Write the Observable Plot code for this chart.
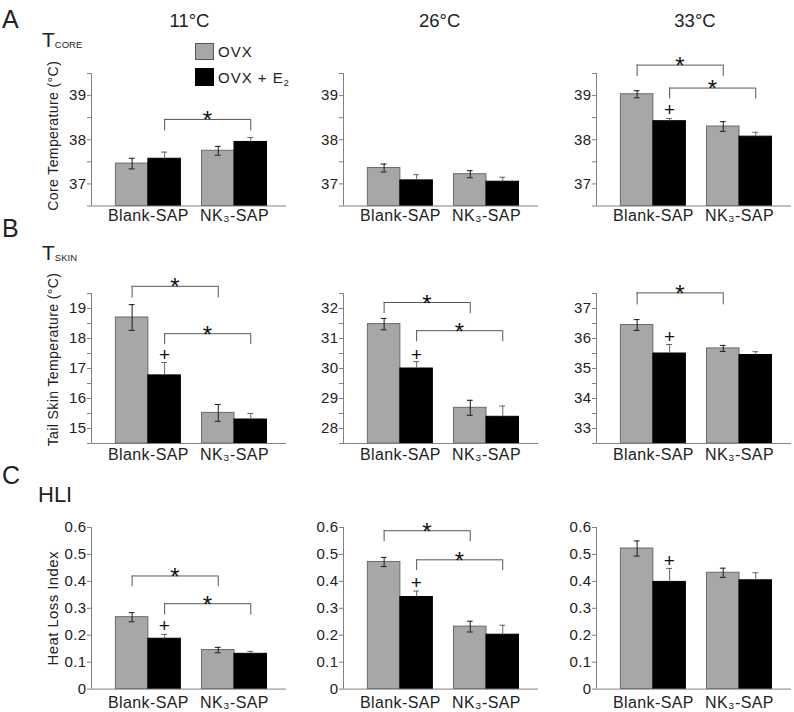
<!DOCTYPE html>
<html><head><meta charset="utf-8">
<script src="https://cdn.jsdelivr.net/npm/d3@7"></script>
<script src="https://cdn.jsdelivr.net/npm/@observablehq/plot@0.6"></script>
<style>
body{margin:0;background:#fff;}
#fig{position:relative;width:794px;height:712px;overflow:hidden;font-family:"Liberation Sans",Arial,Helvetica,sans-serif;color:#1a1a1a;background:#fff;}
.panel{position:absolute;}
.panel svg{overflow:visible;}
#overlay{position:absolute;left:0;top:0;}
</style></head><body><div id="fig"></div>
<script>
// ---------- data ----------
const temperatures = ["11°C", "26°C", "33°C"];
const groups = ["Blank-SAP", "NK₃-SAP"];
const treatments = ["OVX", "OVX + E₂"];
const panelLetters = ["A", "B", "C"];
const yTitles = ["Core Temperature (°C)", "Tail Skin Temperature (°C)", "Heat Loss Index"];

// order inside each list: Blank OVX, Blank OVX+E2, NK3 OVX, NK3 OVX+E2 ; one list per temperature
const coreMean = [[37.46, 37.57, 37.75, 37.95], [37.36, 37.08, 37.22, 37.05], [39.03, 38.42, 38.30, 38.07]];
const coreSem  = [[0.12, 0.15, 0.10, 0.10], [0.09, 0.13, 0.08, 0.10], [0.08, 0.06, 0.11, 0.10]];
const skinMean = [[18.70, 16.77, 15.52, 15.30], [31.48, 30.00, 28.69, 28.39], [36.45, 35.50, 35.67, 35.45]];
const skinSem  = [[0.43, 0.43, 0.28, 0.20], [0.19, 0.23, 0.25, 0.36], [0.18, 0.30, 0.10, 0.11]];
const hliMean  = [[0.267, 0.187, 0.145, 0.131], [0.472, 0.342, 0.232, 0.202], [0.522, 0.398, 0.432, 0.404]];
const hliSem   = [[0.017, 0.016, 0.010, 0.009], [0.017, 0.022, 0.020, 0.035], [0.028, 0.050, 0.017, 0.028]];

const coreDomain = [36.5, 39.5];
const skinDomains = [[14.5, 19.5], [27.5, 32.5], [32.5, 37.5]];
const hliDomain = [0, 0.6];
const coreTicks = [37, 38, 39];
const skinTicks = [[15, 16, 17, 18, 19], [28, 29, 30, 31, 32], [33, 34, 35, 36, 37]];
const hliTicks = [0, 0.1, 0.2, 0.3, 0.4, 0.5, 0.6];

// significance brackets (*): treatment index, bracket level, bracket end
const sigCore = [[{t: 1, y: 38.46, end: 38.2}], [], [{t: 0, y: 39.69, end: 39.43}, {t: 1, y: 39.17, end: 38.92}]];
const sigSkin = [[{t: 0, y: 19.74, end: 19.35}, {t: 1, y: 18.16, end: 17.8}],
                 [{t: 0, y: 32.2, end: 31.83}, {t: 1, y: 31.26, end: 30.89}],
                 [{t: 0, y: 37.52, end: 37.12}]];
const sigHli  = [[{t: 0, y: 0.42, end: 0.38}, {t: 1, y: 0.317, end: 0.275}],
                 [{t: 0, y: 0.588, end: 0.547}, {t: 1, y: 0.48, end: 0.44}], []];
// "+" marker heights above Blank-SAP OVX+E2 bar
const plusCore = [null, null, 38.67];
const plusSkin = [17.45, 30.45, 36.05];
const plusHli  = [0.234, 0.395, 0.477];

// ---------- layout ----------
const FONT = '"Liberation Sans", Arial, Helvetica, sans-serif';
const colAxisX = [91, 342.7, 596];
const rowTop = [72.5, 293.3, 526.7];
const rowH = [132.5, 150, 161.6];
const labelPad = [4, 5, 8];
const groupCenter = [1.75, 4.4]; // x domain [0,6] in bar widths
const ML = 60, MT = 50, MB = 30, MR = 4, FW = 195;
const GRAY = "#a7a7a7", GRAY_STROKE = "#6b6b6b", AXIS = "#808080", TEXT = "#222";

const fig = document.getElementById("fig");

// overlay for titles, letters, legend
const NS = "http://www.w3.org/2000/svg";
const ov = document.createElementNS(NS, "svg");
ov.setAttribute("id", "overlay"); ov.setAttribute("width", 794); ov.setAttribute("height", 712);
ov.style.fontFamily = FONT;
fig.appendChild(ov);
function svgText(x, y, parts, size, anchor = "start", extra = {}) {
  const t = document.createElementNS(NS, "text");
  t.setAttribute("x", x); t.setAttribute("y", y); t.setAttribute("font-size", size);
  t.setAttribute("text-anchor", anchor); t.setAttribute("fill", TEXT);
  for (const k in extra) t.setAttribute(k, extra[k]);
  for (const p of parts) {
    if (typeof p === "string") t.appendChild(document.createTextNode(p));
    else { const s = document.createElementNS(NS, "tspan"); s.textContent = p.text; s.setAttribute("font-size", p.size); s.setAttribute("dy", p.dy); t.appendChild(s); }
  }
  ov.appendChild(t);
}
function svgRect(x, y, w, h, fill, stroke) {
  const r = document.createElementNS(NS, "rect");
  r.setAttribute("x", x); r.setAttribute("y", y); r.setAttribute("width", w); r.setAttribute("height", h);
  r.setAttribute("fill", fill); r.setAttribute("stroke", stroke); ov.appendChild(r);
}
const titleX = [189.5, 439.7, 695];
temperatures.forEach((t, i) => svgText(titleX[i], 26.7, [t], 18.5, "middle"));
const letterY = [28, 237, 484];
panelLetters.forEach((l, i) => svgText(2, letterY[i], [l], 25));
svgText(42, 46.7, ["T", {text: "CORE", size: 9.5, dy: 1}], 21);
svgText(42, 260, ["T", {text: "SKIN", size: 9.5, dy: 1}], 21);
svgText(38, 501.7, ["HLI"], 22);
svgRect(195.5, 43.5, 18, 16, GRAY, "#555");
svgRect(195.5, 68.5, 18, 17, "#000", "#000");
svgText(218, 57.3, [treatments[0]], 15, "start", {"letter-spacing": "1"});
svgText(218, 83.3, ["OVX + E", {text: "2", size: 9, dy: 3}], 15, "start", {"letter-spacing": "1"});

function panel(r, c, means, sems, domain, majors, step, sigs, plus) {
  const bars = means.map((v, i) => {
    const g = Math.floor(i / 2), t = i % 2;
    const x1 = groupCenter[g] - 1 + t;
    return {g, t, v, e: sems[i], x1, x2: x1 + 1, cx: x1 + 0.5};
  });
  const gray = bars.filter(d => d.t === 0), black = bars.filter(d => d.t === 1);
  const ticks = step ? d3.range(domain[0], domain[1] + step / 2, step) : majors;
  const isMajor = d => majors.some(m => Math.abs(m - d) < 1e-9);
  const capW = 0.09;
  const sx1 = s => groupCenter[0] - 0.5 + s.t, sx2 = s => groupCenter[1] - 0.5 + s.t;
  const ySizes = [14, 14, 15], yDy = [-4, -9, 0];
  const marks = [
    Plot.rect(gray, {x1: "x1", x2: "x2", y1: domain[0], y2: "v", fill: GRAY, stroke: GRAY_STROKE, strokeWidth: 1}),
    Plot.rect(black, {x1: "x1", x2: "x2", y1: domain[0], y2: "v", fill: "#000", stroke: "#000", strokeWidth: 1}),
    Plot.ruleX(gray, {x: "cx", y1: d => d.v - d.e, y2: d => d.v + d.e, stroke: "#1a1a1a"}),
    Plot.ruleY(gray, {y: d => d.v + d.e, x1: d => d.cx - capW, x2: d => d.cx + capW, stroke: "#1a1a1a"}),
    Plot.ruleY(gray, {y: d => d.v - d.e, x1: d => d.cx - capW, x2: d => d.cx + capW, stroke: "#1a1a1a"}),
    Plot.ruleX(black, {x: "cx", y1: "v", y2: d => d.v + d.e, stroke: "#666"}),
    Plot.ruleY(black, {y: d => d.v + d.e, x1: d => d.cx - capW, x2: d => d.cx + capW, stroke: "#666"}),
    Plot.ruleX([0], {stroke: AXIS}),
    Plot.ruleY([domain[0]], {stroke: AXIS}),
    Plot.axisY(ticks, {tickSize: 4, tickPadding: 1, stroke: AXIS, fill: TEXT, fontSize: 15,
      tickFormat: d => isMajor(d) ? String(+d.toFixed(2)) : ""}),
    Plot.text(groups, {x: (d, i) => groupCenter[i], text: d => d, frameAnchor: "bottom", lineAnchor: "top",
      dy: labelPad[r], fontSize: 16, fill: TEXT}),
    Plot.ruleY(sigs, {y: "y", x1: sx1, x2: sx2, stroke: "#555"}),
    Plot.ruleX(sigs, {x: sx1, y1: "end", y2: "y", stroke: "#555"}),
    Plot.ruleX(sigs, {x: sx2, y1: "end", y2: "y", stroke: "#555"}),
    Plot.text(sigs, {x: s => (sx1(s) + sx2(s)) / 2, y: "y", text: () => "*", fontSize: 24, lineAnchor: "bottom", dy: 9, fill: "#111"}),
    Plot.text(plus == null ? [] : [plus], {x: groupCenter[0] + 0.5, y: d => d, text: () => "+", fontSize: 19, lineAnchor: "middle", fill: "#111"})
  ];
  if (c === 0) marks.push(Plot.text([yTitles[r]], {frameAnchor: "left", rotate: -90, text: d => d, textAnchor: "middle", lineAnchor: "middle", dx: -38, dy: yDy[r], fontSize: ySizes[r], fill: TEXT}));
  const svg = Plot.plot({
    width: ML + FW + MR, height: MT + rowH[r] + MB,
    marginLeft: ML, marginRight: MR, marginTop: MT, marginBottom: MB,
    x: {domain: [0, 6], axis: null},
    y: {domain, axis: null},
    style: {background: "transparent", overflow: "visible", fontFamily: FONT, letterSpacing: "0.4px"},
    marks
  });
  const div = document.createElement("div");
  div.className = "panel";
  div.style.left = (colAxisX[c] - ML) + "px";
  div.style.top = (rowTop[r] - MT) + "px";
  div.style.width = (ML + FW + MR) + "px";
  div.appendChild(svg);
  fig.appendChild(div);
}

for (let c = 0; c < 3; c++) {
  panel(0, c, coreMean[c], coreSem[c], coreDomain, coreTicks, 0.5, sigCore[c], plusCore[c]);
  panel(1, c, skinMean[c], skinSem[c], skinDomains[c], skinTicks[c], 0.5, sigSkin[c], plusSkin[c]);
  panel(2, c, hliMean[c], hliSem[c], hliDomain, hliTicks, null, sigHli[c], plusHli[c]);
}
</script></body></html>
